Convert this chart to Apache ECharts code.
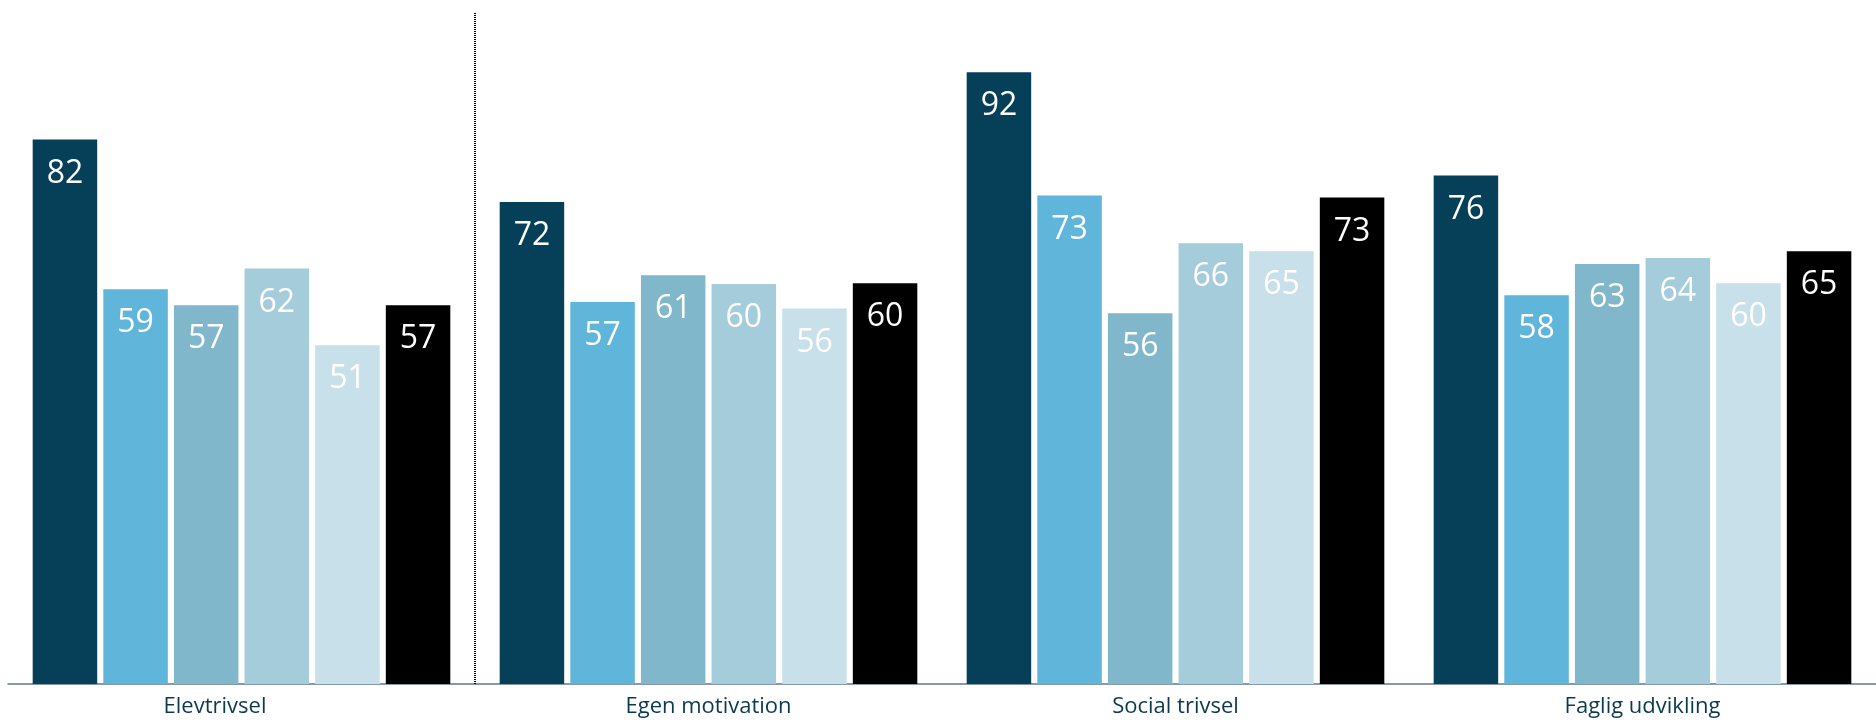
<!DOCTYPE html>
<html><head><meta charset="utf-8">
<script src="https://cdn.jsdelivr.net/npm/echarts@6/dist/echarts.min.js"></script>
<style>html,body{margin:0;padding:0;background:#fff}#c{width:1876px;height:725px}</style>
</head><body><div id="c"></div>
<script>
const categories = ['Elevtrivsel', 'Egen motivation', 'Social trivsel', 'Faglig udvikling'];
const s1 = [81.8, 72.4, 91.9, 76.4];
const s2 = [59.3, 57.4, 73.4, 58.4];
const s3 = [56.9, 61.4, 55.7, 63.1];
const s4 = [62.4, 60.1, 66.2, 64.0];
const s5 = [50.9, 56.4, 65.0, 60.2];
const s6 = [56.9, 60.2, 73.1, 65.0];
const seriesValues = [s1, s2, s3, s4, s5, s6];
const dividerPositions = [1]; // boundary after the first category
const colors = ['#053F58', '#5FB5DA', '#80B7CB', '#A4CCDA', '#C8E0EA', '#000000'];

const chart = echarts.init(document.getElementById('c'));
const series = seriesValues.map((d, i) => ({
  type: 'bar', data: d, barWidth: 64.5, barGap: '9.5%',
  itemStyle: {color: colors[i]},
  label: {show: true, position: 'insideTop', distance: 18, color: '#fff', fontSize: 32, fontFamily: 'Open Sans',
    formatter: p => String(Math.round(p.value))}
}));
series.push({
  type: 'line', xAxisIndex: 1, data: [], silent: true,
  markLine: {symbol: 'none', silent: true, label: {show: false},
    lineStyle: {color: '#000', width: 2, type: [1, 1]},
    data: dividerPositions.map(v => ({xAxis: v}))}
});
chart.setOption({
  animation: false,
  grid: {left: 8, right: 0, top: 13, bottom: 41},
  xAxis: [{
    type: 'category',
    data: categories.map((c, i) => i === 0 ? {value: c, textStyle: {padding: [0, 53, 0, 0]}} : c),
    axisLine: {lineStyle: {color: '#5d7a92', width: 1.5}},
    axisTick: {show: false},
    axisLabel: {color: '#0b3a4e', fontSize: 22, fontFamily: 'Open Sans', margin: 12},
    splitLine: {show: false}
  }, {
    type: 'value', min: 0, max: categories.length, show: false, splitLine: {show: false}
  }],
  yAxis: {type: 'value', min: 0, max: 100.8, show: false, splitLine: {show: false}},
  series: series
});
</script></body></html>
